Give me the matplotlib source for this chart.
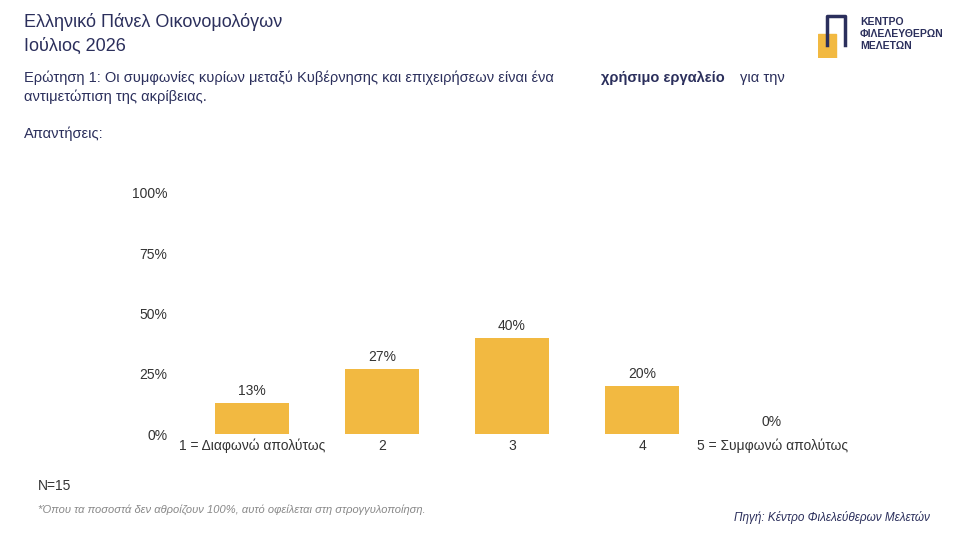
import matplotlib.pyplot as plt
from matplotlib.patches import Rectangle

plt.rcParams['font.family'] = ['Liberation Sans', 'DejaVu Sans']

categories = ['1 = Διαφωνώ απολύτως', '2', '3', '4', '5 = Συμφωνώ απολύτως']
values = [13, 27, 40, 20, 0]
yticks = [0, 25, 50, 75, 100]

text_color = '#333333'
navy = '#2B2F5C'
bar_color = '#F2B941'

fig = plt.figure(figsize=(9.6, 5.4), dpi=100)

fig.text(24/960, 1 - 22/540, 'Ελληνικό Πάνελ Οικονομολόγων', fontsize=13, color=navy, va='center')
fig.text(24/960, 1 - 46/540, 'Ιούλιος 2026', fontsize=13, color=navy, va='center')
fig.text(24/960, 1 - 78/540, 'Ερώτηση 1: Οι συμφωνίες κυρίων μεταξύ Κυβέρνησης και επιχειρήσεων είναι ένα ',
         fontsize=10.5, color=navy, va='center')
fig.text(601/960, 1 - 78/540, 'χρήσιμο εργαλείο', fontsize=10.5, color=navy, va='center', fontweight='bold')
fig.text(740/960, 1 - 78/540, 'για την', fontsize=10.5, color=navy, va='center')
fig.text(24/960, 1 - 97/540, 'αντιμετώπιση της ακρίβειας.', fontsize=10.5, color=navy, va='center')
fig.text(24/960, 1 - 134/540, 'Απαντήσεις:', fontsize=10.5, color=navy, va='center')

# logo
lax = fig.add_axes([818/960, 1 - 58/540, 30/960, 44/540])
lax.set_xlim(0, 1); lax.set_ylim(0, 1); lax.axis('off')
lax.add_patch(Rectangle((0.0, 0.0), 0.6, 0.55, color=bar_color))
lax.plot([0.3, 0.3, 0.9, 0.9], [0.3, 0.95, 0.95, 0.3], color=navy, lw=2.5)
for i, t in enumerate(['ΚΕΝΤΡΟ', 'ΦΙΛΕΛΕΥΘΕΡΩΝ', 'ΜΕΛΕΤΩΝ']):
    fig.text(860/960, 1 - (22 + i * 12)/540, t, fontsize=7.5, color=navy, fontweight='bold', va='center')

ax = fig.add_axes([187/960, 1 - 434/540, 650/960, 241/540])
x = range(len(categories))
ax.bar(x, values, width=0.57, color=bar_color)
for xi, v in zip(x, values):
    ax.text(xi, v + 2, f'{v}%', ha='center', va='bottom', fontsize=10, color=text_color)
ax.set_xlim(-0.5, 4.5)
ax.set_ylim(0, 100)
ax.set_yticks(yticks)
ax.set_yticklabels([f'{t}%' for t in yticks])
ax.set_xticks(list(x))
ax.set_xticklabels(categories)
ax.tick_params(length=0, labelsize=10, labelcolor=text_color)
ax.tick_params(axis='y', pad=14)
for s in ax.spines.values():
    s.set_visible(False)

fig.text(38/960, 1 - 486/540, 'N=15', fontsize=10, color=text_color, va='center')
fig.text(38/960, 1 - 510/540, '*Όπου τα ποσοστά δεν αθροίζουν 100%, αυτό οφείλεται στη στρογγυλοποίηση.',
         fontsize=8, color='#888888', style='italic', va='center')
fig.text(930/960, 1 - 518/540, 'Πηγή: Κέντρο Φιλελεύθερων Μελετών', fontsize=8.5, color=navy,
         style='italic', va='center', ha='right')

fig.savefig('out.png', dpi=100)
